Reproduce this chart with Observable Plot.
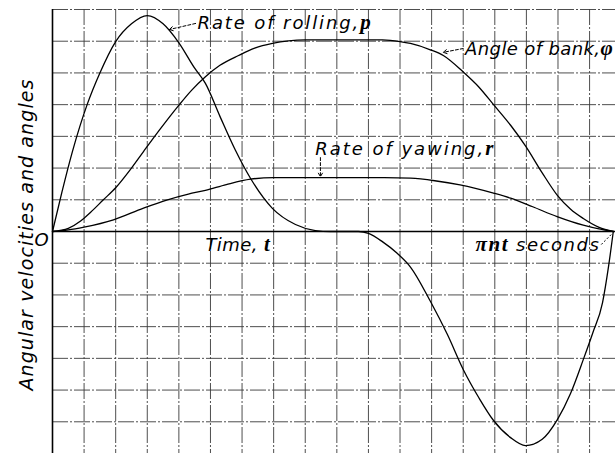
<!DOCTYPE html>
<html><head><meta charset="utf-8">
<script src="https://cdn.jsdelivr.net/npm/d3@7"></script>
<script src="https://cdn.jsdelivr.net/npm/@observablehq/plot@0.6"></script>
<style>body{margin:0;background:#fff}#chart svg{display:block}</style>
</head><body><div id="chart"></div>
<script>
// Rate of rolling, p
const rollT = [0, 0.3, 0.63, 1.11, 1.5, 2.0, 2.5, 3.0, 3.5, 4.0, 4.5, 4.84, 5.3, 5.79, 6.27, 6.96, 7.69, 8.32, 8.8, 9.68, 10.0, 10.44, 10.9, 11.33, 11.96, 12.5, 13.0, 13.5, 13.96, 14.5, 14.97, 15.5, 15.98, 16.4, 16.8, 17.1, 17.41, 17.6, 17.75];
const rollP = [0, 1.25, 2.52, 4.04, 5.0, 5.99, 6.55, 6.81, 6.55, 5.95, 5.15, 4.67, 3.63, 2.56, 1.67, 0.73, 0.22, 0.03, 0, 0, -0.06, -0.32, -0.68, -1.12, -2.2, -3.25, -4.35, -5.25, -5.96, -6.5, -6.75, -6.55, -5.93, -5.1, -4.04, -3.2, -2.24, -1.1, 0];
// Angle of bank, phi
const bankT = [0, 0.5, 0.89, 1.2, 1.61, 2.0, 2.5, 2.88, 3.4, 3.99, 4.4, 4.84, 5.3, 5.89, 6.4, 6.96, 7.47, 8.0, 10.44, 11.0, 11.33, 11.96, 12.37, 13.0, 13.5, 13.96, 14.5, 14.97, 15.5, 15.98, 16.4, 16.8, 17.3, 17.75];
const bankPhi = [0, 0.1, 0.33, 0.6, 1.0, 1.38, 2.0, 2.52, 3.22, 3.97, 4.45, 4.88, 5.24, 5.55, 5.78, 5.93, 6.01, 6.04, 6.04, 5.99, 5.93, 5.73, 5.55, 5.03, 4.55, 4.0, 3.35, 2.7, 1.85, 1.14, 0.7, 0.41, 0.13, 0];
// Rate of yawing, r
const yawT = [0, 0.5, 1.0, 1.93, 2.88, 3.64, 4.3, 4.84, 5.5, 6.27, 7.0, 10.5, 11.33, 12.1, 12.9, 13.96, 14.5, 15.2, 15.97, 16.8, 17.3, 17.75];
const yawR = [0, 0.05, 0.14, 0.37, 0.74, 1.0, 1.18, 1.3, 1.48, 1.65, 1.70, 1.70, 1.68, 1.6, 1.47, 1.21, 1.05, 0.78, 0.47, 0.2, 0.08, 0];

// grid ticks
const xGrid = [1, 2, 3, 4, 5, 6, 7, 8, 9, 10, 11, 12, 13, 14, 15, 16, 17];
const yGrid = [-7, -6, -5, -4, -3, -2, -1, 1, 2, 3, 4, 5, 6, 7];

// annotations
const labelText = ["Rate of rolling,", "Angle of bank,", "Rate of yawing,", "Time, ", "seconds"];
const labelPre = ["", "", "", "", "\u03c0nt"];
const labelSym = ["p", "\u03c6", "r", "t", ""];
const labelX = [4.59, 13.06, 8.32, 4.84, 13.39];
const labelY = [6.40, 5.55, 2.40, -0.63, -0.63];
const labelWidth = [175, 148, 180, 65, 125];
const yTitle = "Angular velocities and angles";
const originLabel = "O";

const leaderX1 = [4.53, 13.0, 8.48];
const leaderY1 = [6.56, 5.77, 2.33];
const leaderX2 = [3.70, 12.37, 8.48];
const leaderY2 = [6.37, 5.65, 1.73];
const endLeader = [{x1: 17.37, y1: -0.41, x2: 17.72, y2: -0.06}];

const roll = rollT.map((t, i) => ({t, v: rollP[i]}));
const bank = bankT.map((t, i) => ({t, v: bankPhi[i]}));
const yaw = yawT.map((t, i) => ({t, v: yawR[i]}));
const labels = labelText.map((s, i) => ({text: s, pre: labelPre[i], sym: labelSym[i], x: labelX[i], y: labelY[i], w: labelWidth[i]}));
const leaders = leaderX1.map((x, i) => ({x1: x, y1: leaderY1[i], x2: leaderX2[i], y2: leaderY2[i]}));

const sans = "'DejaVu Sans', sans-serif";
const serif = "'Liberation Serif', 'DejaVu Serif', serif";

const gridStyle = {stroke: "#3a3a3a", strokeWidth: 0.9, strokeDasharray: "16,2,2,2"};
const lineStyle = {x: "t", y: "v", stroke: "#000", strokeWidth: 1.3, curve: "monotone-x"};

const chart = Plot.plot({
  width: 615,
  height: 453,
  marginLeft: 52,
  marginRight: 0,
  marginTop: 9,
  marginBottom: 0,
  x: {domain: [0, 17.82], axis: null},
  y: {domain: [-7, 7], axis: null},
  style: {background: "#fff", overflow: "visible"},
  marks: [
    Plot.ruleX(xGrid, gridStyle),
    Plot.ruleY(yGrid, gridStyle),
    Plot.ruleX([0], {stroke: "#000", strokeWidth: 1.6}),
    Plot.ruleY([0], {stroke: "#000", strokeWidth: 1.6}),
    Plot.line(roll, lineStyle),
    Plot.line(bank, lineStyle),
    Plot.line(yaw, lineStyle),
    Plot.arrow(leaders, {x1: "x1", y1: "y1", x2: "x2", y2: "y2", stroke: "#000", strokeWidth: 1, strokeDasharray: "3,2", headLength: 6}),
    Plot.link(endLeader, {x1: "x1", y1: "y1", x2: "x2", y2: "y2", stroke: "#000", strokeWidth: 1, strokeDasharray: "2,2"}),
    Plot.text(labels, {x: "x", y: "y", text: "text", textAnchor: "start", lineAnchor: "bottom", fontSize: 18, fontStyle: "italic", fontFamily: sans, fill: "#000"}),
    Plot.text([originLabel], {x: () => 0, y: () => 0, dx: -11, dy: 9, text: d => d, fontSize: 18, fontStyle: "italic", fontFamily: sans, fill: "#000", textAnchor: "middle", lineAnchor: "middle"}),
    Plot.text([yTitle], {frameAnchor: "left", dx: -20, dy: 3, rotate: -90, text: d => d, fontSize: 19, fontStyle: "italic", fontFamily: sans, fill: "#000", textAnchor: "middle", lineAnchor: "bottom"})
  ]
});

document.getElementById("chart").appendChild(chart);

function fit(el, target) {
  const len = el.getComputedTextLength();
  const n = el.textContent.length;
  if (n > 1) el.setAttribute("letter-spacing", ((target - len) / n).toFixed(2) + "px");
}

d3.select(chart).selectAll("text").each(function () {
  const content = this.textContent.trim();
  if (content === yTitle) { fit(this, 312); return; }
  const d = labels.find(l => l.text.trim() === content);
  if (!d) return;
  const el = d3.select(this);
  el.text(null);
  if (d.pre) el.append("tspan").attr("font-family", serif).attr("font-weight", "bold").attr("font-size", 21).text(d.pre + " ");
  el.append("tspan").text(d.text);
  if (d.sym) el.append("tspan").attr("font-family", serif).attr("font-weight", "bold").attr("font-size", 21).text(d.sym);
  fit(this, d.w);
});
</script>
</body></html>
